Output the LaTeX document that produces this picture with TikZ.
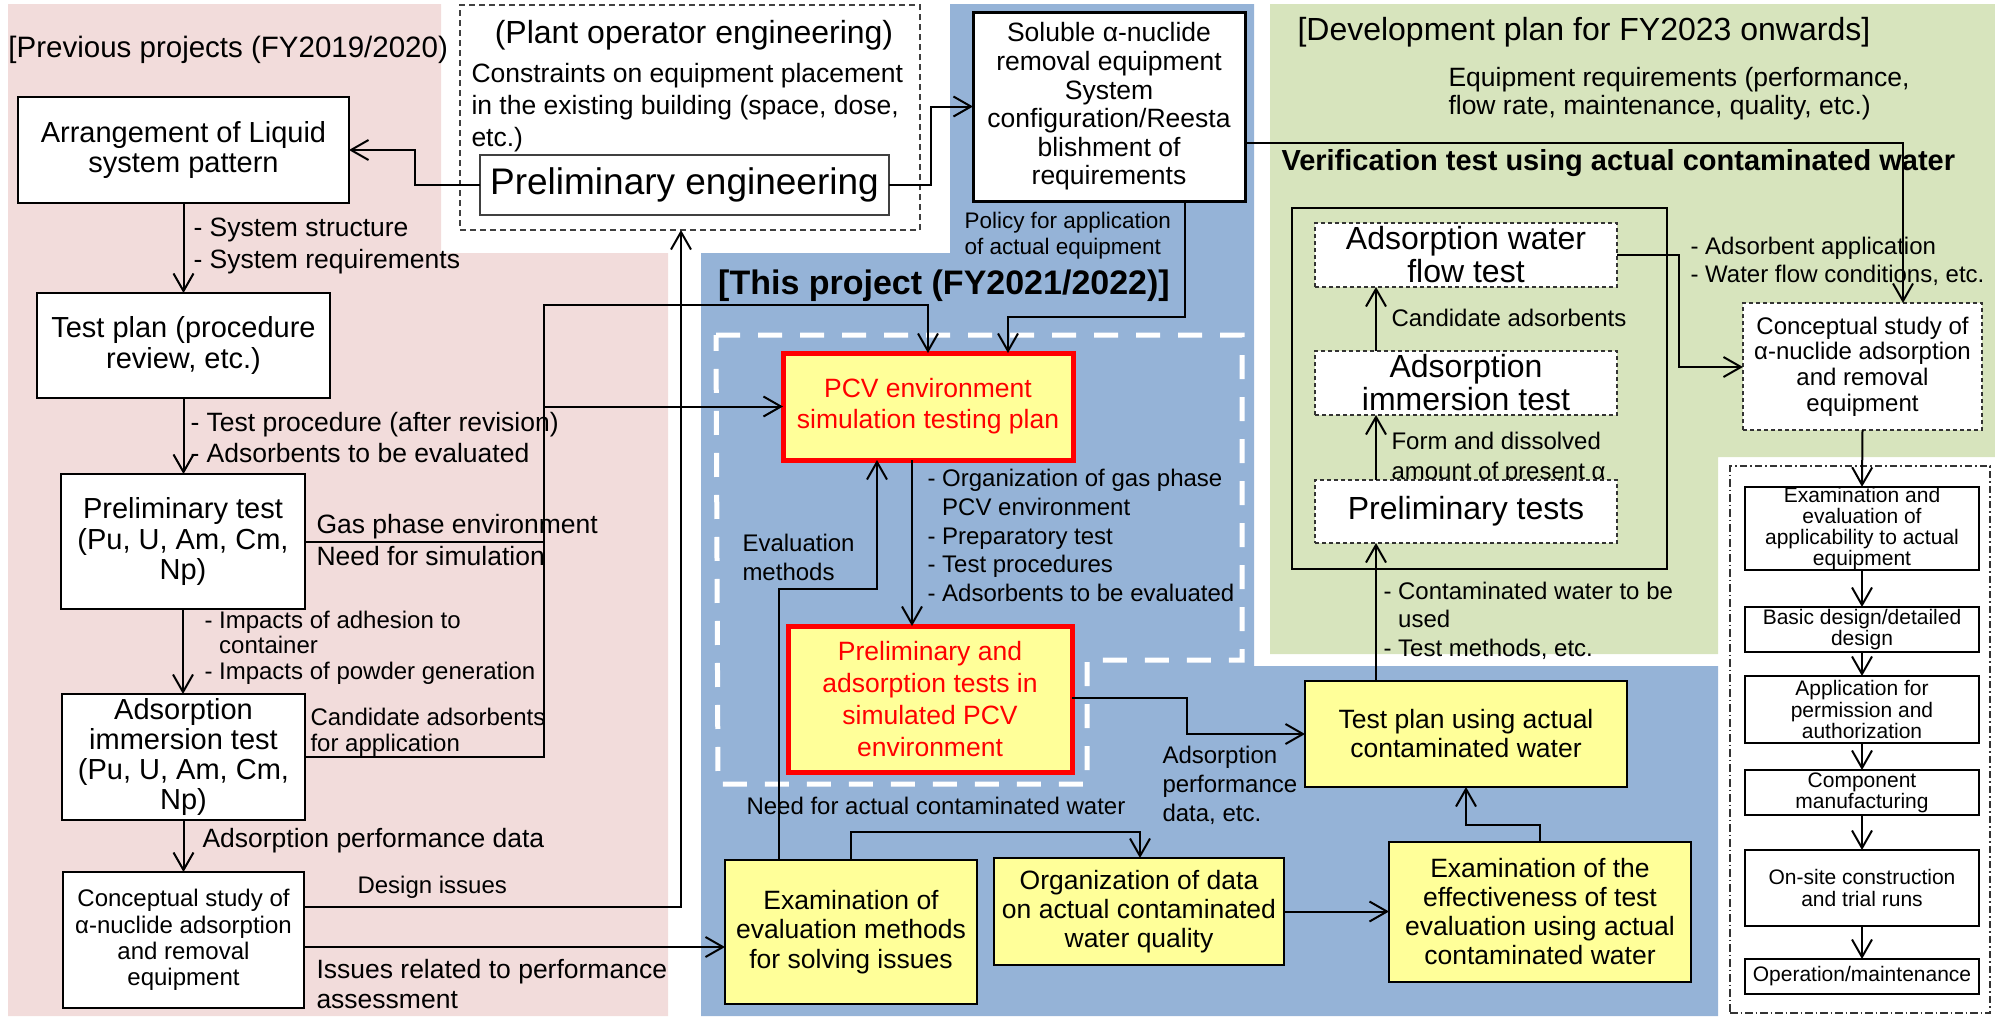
\documentclass[tikz,border=0pt]{standalone}
\usepackage{fontspec}
\setmainfont{Liberation Sans}
\usetikzlibrary{arrows.meta}
\definecolor{prevpink}{RGB}{242,220,219}
\definecolor{projblue}{RGB}{149,179,215}
\definecolor{plangreen}{RGB}{215,228,189}
\definecolor{boxyellow}{RGB}{255,255,153}
\newcommand\fsz[2]{\fontsize{#1}{#2}\selectfont}
\tikzset{
  base/.style={inner sep=0pt, outer sep=0pt, align=center},
  wh/.style 2 args={minimum width=#1*0.4pt, minimum height=#2*0.4pt},
  box/.style={base, draw=black, line width=0.55pt, fill=white},
  ybox/.style={base, draw=black, line width=0.9pt, fill=boxyellow},
  rbox/.style={base, draw=red, line width=2pt, fill=boxyellow, text=red},
  dbox/.style={base, draw=black!80, line width=0.45pt, dash pattern=on 1.6pt off 1.2pt, fill=white},
  lbl/.style={inner sep=0pt, anchor=west, align=left},
  conn/.style={line width=0.8pt, -{Straight Barb[length=7pt,width=8pt]}},
  plain/.style={line width=0.8pt},
}
\begin{document}
\begin{tikzpicture}[x=0.4pt,y=-0.4pt]
\useasboundingbox (0,0) rectangle (1995,1016);

% ---- background panels
\fill[prevpink] (8,4) -- (441,4) -- (441,253) -- (668,253) -- (668,1016) -- (8,1016) -- cycle;
\fill[projblue] (950,4) -- (1254,4) -- (1254,666) -- (1718,666) -- (1718,1016) -- (701,1016) -- (701,253) -- (950,253) -- cycle;
\fill[plangreen] (1270,4) -- (1995,4) -- (1995,457) -- (1718,457) -- (1718,654) -- (1270,654) -- cycle;

% ---- frames
\node[base, draw=black!75, line width=0.5pt, dash pattern=on 2.4pt off 1.6pt, wh={460}{225}] (plant) at (690,117.5) {};
\draw[white, line width=2pt, dash pattern=on 9.6pt off 7.2pt]
  (716,335) -- (1242,335) -- (1242,660) -- (1087,660) -- (1087,784) -- (718,784) -- cycle;
\node[base, draw=black, line width=1.1pt, wh={375}{361}] (vframe) at (1479.5,388.5) {};
\node[base, draw=black!80, line width=0.45pt, dash pattern=on 3pt off 1.2pt on 0.6pt off 1.2pt, wh={260}{547}] (impl) at (1860,739.5) {};

% ---- headings
\node[lbl, font=\fsz{11.8}{13}] (hprev) at (8,50) {[Previous projects (FY2019/2020)};
\node[base, font=\fsz{12.8}{14}] (hplant) at (694,35) {(Plant operator engineering)};
\node[lbl, font=\fsz{10.6}{12.8}] (constr) at (471,108) {Constraints on equipment placement\\in the existing building (space, dose,\\etc.)};
\node[base, font=\bfseries\fsz{13.6}{15}] (hthis) at (944,286) {[This project (FY2021/2022)]};
\node[lbl, font=\fsz{12.8}{14}] (hdev) at (1297,32) {[Development plan for FY2023 onwards]};
\node[lbl, font=\fsz{10.6}{11.2}] (eqreq) at (1448,94) {Equipment requirements (performance,\\flow rate, maintenance, quality, etc.)};
\node[lbl, font=\bfseries\fsz{11.6}{13}] (hverif) at (1281,163) {Verification test using actual contaminated water};

% ---- connector labels
\node[lbl, font=\fsz{10.6}{12.8}] (l1) at (193,246) {- System structure\\- System requirements};
\node[lbl, font=\fsz{10.6}{12.4}] (l2) at (190,437.5) {- Test procedure (after revision)\\- Adsorbents to be evaluated};
\node[lbl, font=\fsz{10.6}{12.8}] (l3) at (316,540) {Gas phase environment\\Need for simulation};
\node[lbl, font=\fsz{9.6}{10.2}] (l4) at (204,647.5) {- Impacts of adhesion to\\\phantom{- }container\\- Impacts of powder generation};
\node[lbl, font=\fsz{9.6}{10.4}] (l5) at (310,732) {Candidate adsorbents\\for application};
\node[lbl, font=\fsz{10.6}{12}] (l6) at (202,841) {Adsorption performance data};
\node[lbl, font=\fsz{9.6}{11}] (l7) at (357,887) {Design issues};
\node[lbl, font=\fsz{10.6}{12}] (l8) at (316,984) {Issues related to performance\\assessment};
\node[lbl, font=\fsz{9}{10.4}] (l9) at (964,236) {Policy for application\\of actual equipment};
\node[lbl, font=\fsz{9.6}{11.5}] (l10) at (927,535.5) {- Organization of gas phase\\\phantom{- }PCV environment\\- Preparatory test\\- Test procedures\\- Adsorbents to be evaluated};
\node[lbl, font=\fsz{9.6}{11.6}] (l11) at (742,557.5) {Evaluation\\methods};
\node[lbl, font=\fsz{9.6}{11}] (l12) at (746,806) {Need for actual contaminated water};
\node[lbl, font=\fsz{9.6}{11.6}] (l13) at (1162,785) {Adsorption\\performance\\data, etc.};
\node[lbl, font=\fsz{9.6}{11.4}] (l14) at (1383,620.5) {- Contaminated water to be\\\phantom{- }used\\- Test methods, etc.};
\node[lbl, font=\fsz{9.6}{11}] (l15) at (1391,318) {Candidate adsorbents};
\node[lbl, font=\fsz{9.6}{12}] (l16) at (1391,458) {Form and dissolved\\amount of present α};
\node[lbl, font=\fsz{9.6}{11.2}] (l17) at (1690,261) {- Adsorbent application\\- Water flow conditions, etc.};

% ---- previous projects
\node[box, wh={331}{106}, font=\fsz{11.6}{12.2}] (arr) at (183.5,150) {Arrangement of Liquid\\system pattern};
\node[box, wh={293}{105}, font=\fsz{11.6}{12.6}] (tplan) at (183.5,345.5) {Test plan (procedure\\review, etc.)};
\node[box, wh={244}{135}, font=\fsz{11.6}{12.2}] (ptest) at (183,541.5) {Preliminary test\\(Pu, U, Am, Cm,\\Np)};
\node[box, wh={243}{126}, font=\fsz{11.6}{12}] (aimm) at (183.5,757) {Adsorption\\immersion test\\(Pu, U, Am, Cm,\\Np)};
\node[box, wh={241}{136}, font=\fsz{9.6}{10.5}] (cstudyL) at (183.5,940) {Conceptual study of\\α-nuclide adsorption\\and removal\\equipment};

% ---- plant operator engineering
\node[box, draw=black!75, wh={409}{60}, font=\fsz{14.8}{16}] (peng) at (684.5,185) {Preliminary engineering};
\node[box, line width=1.2pt, wh={272}{189}, font=\fsz{10.6}{11.45}] (sol) at (1109,106.5) {Soluble α-nuclide\\removal equipment\\System\\configuration/Reesta\\blishment of\\requirements};

% ---- this project
\node[rbox, wh={290}{107}, font=\fsz{10.6}{12.4}] (pcv) at (928,406.5) {PCV environment\\simulation testing plan};
\node[rbox, wh={284}{146}, font=\fsz{10.6}{12.7}] (pads) at (930,699) {Preliminary and\\adsorption tests in\\simulated PCV\\environment};
\node[ybox, wh={252}{144}, font=\fsz{10.6}{11.8}] (exam) at (851,932) {Examination of\\evaluation methods\\for solving issues};
\node[ybox, line width=1.1pt, wh={290}{107}, font=\fsz{10.6}{11.6}] (org) at (1139,911.5) {Organization of data\\on actual contaminated\\water quality};
\node[ybox, wh={302}{140}, font=\fsz{10.6}{11.6}] (eff) at (1540,912) {Examination of the\\effectiveness of test\\evaluation using actual\\contaminated water};
\node[ybox, wh={322}{106}, font=\fsz{10.6}{11.6}] (tpa) at (1466,734) {Test plan using actual\\contaminated water};

% ---- development plan
\node[dbox, wh={302}{64}, font=\fsz{12.8}{13.2}] (awf) at (1466,255) {Adsorption water\\flow test};
\node[dbox, wh={302}{64}, font=\fsz{12.8}{13.2}] (aimR) at (1466,383) {Adsorption\\immersion test};
\node[dbox, wh={302}{63}, font=\fsz{12.8}{13.2}] (ptests) at (1466,511.5) {Preliminary tests};
\node[dbox, wh={239}{127}, font=\fsz{9.6}{10.3}] (cstudyR) at (1862.5,366.5) {Conceptual study of\\α-nuclide adsorption\\and removal\\equipment};

\tikzset{rc/.style={box, line width=0.6pt, font=\fsz{8.4}{8.5}}}
\node[rc, wh={234}{83}] (rc1) at (1862,528.5) {Examination and\\evaluation of\\applicability to actual\\equipment};
\node[rc, wh={234}{45}] (rc2) at (1862,629.5) {Basic design/detailed\\design};
\node[rc, wh={234}{67}] (rc3) at (1862,709.5) {Application for\\permission and\\authorization};
\node[rc, wh={234}{45}] (rc4) at (1862,792.5) {Component\\manufacturing};
\node[rc, wh={234}{76}] (rc5) at (1862,888) {On-site construction\\and trial runs};
\node[rc, wh={234}{35}] (rc6) at (1862,976.5) {Operation/maintenance};

% ---- joints
\coordinate (pg1) at (415,185);
\coordinate (col) at (544,305);
\coordinate (colb) at (544,757);
\coordinate (colm) at (544,406.5);
\coordinate (j1) at (681,305);
\coordinate (dsg) at (681,907);
\coordinate (iss) at (700,947);
\coordinate (pe1) at (931,185);
\coordinate (s1) at (1185,317);
\coordinate (s2) at (1008,317);
\coordinate (pp) at (912,500);
\coordinate (ev1) at (779,589);
\coordinate (ev2) at (877,589);
\coordinate (eo1) at (851,832);
\coordinate (eo2) at (1140,832);
\coordinate (et1) at (1540,825);
\coordinate (et2) at (1466,825);
\coordinate (pt1) at (1187,698);
\coordinate (pt2) at (1187,734);
\coordinate (tp1) at (1376,600);
\coordinate (ac1) at (1679,255);
\coordinate (ac2) at (1679,367);
\coordinate (sc1) at (1903,143);

% ---- connectors: previous projects
\draw[conn] (peng.west) -- (pg1) |- (arr.east);
\draw[conn] (arr.south) -- (tplan.north);
\draw[conn] (tplan.south) -- (tplan.south |- ptest.north);
\draw[conn] (ptest.south) -- (ptest.south |- aimm.north);
\draw[conn] (aimm.south) -- (cstudyL.north);
\draw[plain] (ptest.east) -- (ptest.east -| col);
\draw[conn] (aimm.east) -- (colb) -- (col) -| (pcv.north);
\draw[conn] (colm) -- (pcv.west);
\draw[conn] (col) -- (j1) -- (j1 |- plant.south);
\draw[line width=0.5pt] (cstudyL.east |- dsg) -- (dsg) -- (j1);
\draw[conn] (cstudyL.east |- iss) -- (exam.west |- iss);

% ---- connectors: this project
\draw[conn] (peng.east) -- (pe1) |- (sol.west);
\draw[conn] (sol.south -| s1) -- (s1) -- (s2) -- (s2 |- pcv.north);
\draw[conn] (pcv.south -| pp) -- (pads.north -| pp);
\draw[conn] (exam.north -| ev1) -- (ev1) -- (ev2) -- (ev2 |- pcv.south);
\draw[conn] (exam.north -| eo1) -- (eo1) -- (eo2) -- (eo2 |- org.north);
\draw[conn] (org.east) -- (eff.west |- org.east);
\draw[conn] (eff.north) -- (et1) -- (et2) -- (tpa.south);
\draw[conn] (pads.east |- pt1) -- (pt1) -- (pt2) -- (tpa.west |- pt2);
\draw[conn] (tpa.north -| tp1) -- (ptests.south -| tp1);

% ---- connectors: development plan
\draw[conn] (ptests.north -| tp1) -- (aimR.south -| tp1);
\draw[conn] (aimR.north -| tp1) -- (awf.south -| tp1);
\draw[conn] (awf.east |- ac1) -- (ac1) -- (ac2) -- (cstudyR.west |- ac2);
\draw[conn] (sol.east |- sc1) -- (sc1) -- (cstudyR.north -| sc1);
\draw[conn] (cstudyR.south) -- (rc1.north);
\draw[conn] (rc1.south) -- (rc2.north);
\draw[conn] (rc2.south) -- (rc3.north);
\draw[conn] (rc3.south) -- (rc4.north);
\draw[conn] (rc4.south) -- (rc5.north);
\draw[conn] (rc5.south) -- (rc6.north);
\end{tikzpicture}
\end{document}
